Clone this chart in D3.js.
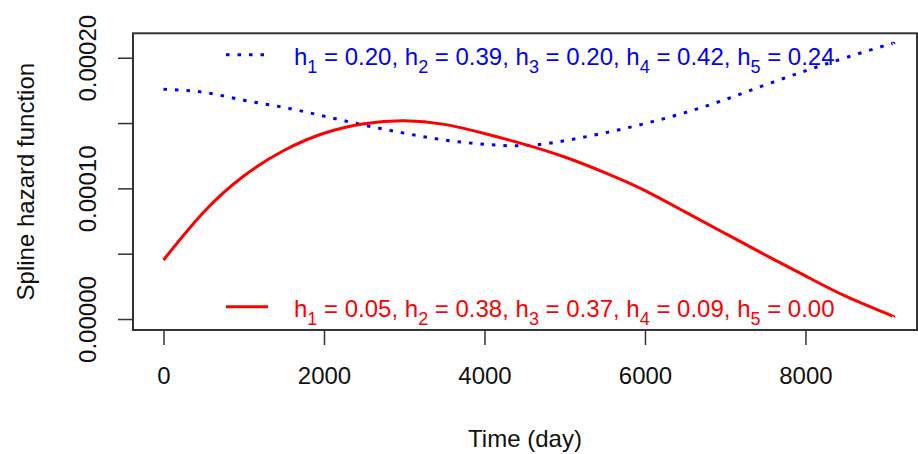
<!DOCTYPE html>
<html>
<head>
<meta charset="utf-8">
<script src="https://cdn.jsdelivr.net/npm/d3@7"></script>
<style>
  body { margin: 0; background: #fff; }
  svg { display: block; font-family: "Liberation Sans", Arial, sans-serif; }
</style>
</head>
<body>
<svg width="918" height="454"></svg>
<script>
// time points (days)
var days = [0, 500, 1000, 1500, 2000, 2500, 3000, 3500, 4000, 4500, 5000, 5500, 6000, 6500, 7000, 7500, 8000, 8500, 9000, 9100];
// red solid spline hazard (x 1e-5)
var redHaz = [4.52, 8.18, 10.95, 12.9, 14.22, 14.95, 15.18, 14.9, 14.2, 13.37, 12.4, 11.2, 9.83, 8.2, 6.55, 4.9, 3.3, 1.75, 0.45, 0.15];
// blue dotted spline hazard (x 1e-5)
var blueHaz = [17.59, 17.35, 16.75, 16.2, 15.53, 14.84, 14.23, 13.7, 13.38, 13.27, 13.65, 14.25, 14.96, 15.8, 16.8, 17.92, 19.0, 20.0, 20.95, 21.1];

var xTicks = [0, 2000, 4000, 6000, 8000];
var yTicks = [0, 0.00005, 0.0001, 0.00015, 0.0002];
var yTickLabels = ['0.00000', '', '0.00010', '', '0.00020'];

var blueLegend = [['h', '1', ' = 0.20, '], ['h', '2', ' = 0.39, '], ['h', '3', ' = 0.20, '], ['h', '4', ' = 0.42, '], ['h', '5', ' = 0.24']];
var redLegend = [['h', '1', ' = 0.05, '], ['h', '2', ' = 0.38, '], ['h', '3', ' = 0.37, '], ['h', '4', ' = 0.09, '], ['h', '5', ' = 0.00']];

var svg = d3.select('svg');
var boxL = 133, boxR = 917, boxT = 33.3, boxB = 330;

var x = d3.scaleLinear().domain([-380, 9390]).range([boxL, boxR]);
var y = d3.scaleLinear().domain([-0.0000084, 0.0002187]).range([boxB, boxT]);

// plot box
svg.append('rect').attr('x', boxL).attr('y', boxT).attr('width', boxR - boxL).attr('height', boxB - boxT)
  .attr('fill', 'none').attr('stroke', '#333').attr('stroke-width', 2);

// x axis
var gx = svg.append('g').attr('transform', 'translate(0,' + boxB + ')')
  .call(d3.axisBottom(x).tickValues(xTicks).tickSize(15).tickPadding(21.7).tickFormat(d3.format('d')));
gx.select('.domain').remove();
gx.selectAll('line').attr('stroke', '#333').attr('stroke-width', 1.5);
gx.selectAll('text').attr('font-size', 24).attr('fill', '#111').attr('font-family', 'Liberation Sans, Arial, sans-serif');

// y axis
var gy = svg.append('g').attr('transform', 'translate(' + boxL + ',0)')
  .call(d3.axisLeft(y).tickValues(yTicks).tickSize(15).tickFormat(function(d, i) { return yTickLabels[i]; }));
gy.select('.domain').remove();
gy.selectAll('line').attr('stroke', '#333').attr('stroke-width', 1.5);
gy.selectAll('text').attr('x', null).attr('dy', null)
  .attr('transform', 'translate(-37,0) rotate(-90)').attr('text-anchor', 'middle')
  .attr('font-size', 24).attr('fill', '#111').attr('font-family', 'Liberation Sans, Arial, sans-serif');

// axis titles
svg.append('text').attr('x', (boxL + boxR) / 2).attr('y', 447).attr('text-anchor', 'middle')
  .attr('font-size', 24).attr('fill', '#111').text('Time (day)');
svg.append('text').attr('transform', 'translate(34,' + ((boxT + boxB) / 2) + ') rotate(-90)')
  .attr('text-anchor', 'middle').attr('font-size', 24).attr('fill', '#111').text('Spline hazard function');

// curves
var line = d3.line().curve(d3.curveNatural);
function pts(vals) { return days.map(function(d, i) { return [x(d), y(vals[i] * 1e-5)]; }); }

svg.append('path').attr('d', line(pts(blueHaz))).attr('fill', 'none')
  .attr('stroke', '#0000ff').attr('stroke-width', 3).attr('stroke-dasharray', '3.5,8');
svg.append('path').attr('d', line(pts(redHaz))).attr('fill', 'none')
  .attr('stroke', '#ff0000').attr('stroke-width', 3);

// legends
function legend(items, ly, color, dash) {
  svg.append('line').attr('x1', 226).attr('x2', 268).attr('y1', ly - 10).attr('y2', ly - 10)
    .attr('stroke', color).attr('stroke-width', 3).attr('stroke-dasharray', dash);
  var t = svg.append('text').attr('x', 294).attr('y', ly).attr('font-size', 24).attr('fill', color);
  items.forEach(function(it) {
    t.append('tspan').text(it[0]);
    t.append('tspan').attr('font-size', 18).attr('dy', 8).text(it[1]);
    t.append('tspan').attr('dy', -8).text(it[2]);
  });
}
legend(blueLegend, 64.7, '#0000ff', '3.5,8');
legend(redLegend, 316.7, '#ff0000', null);
</script>
</body>
</html>
